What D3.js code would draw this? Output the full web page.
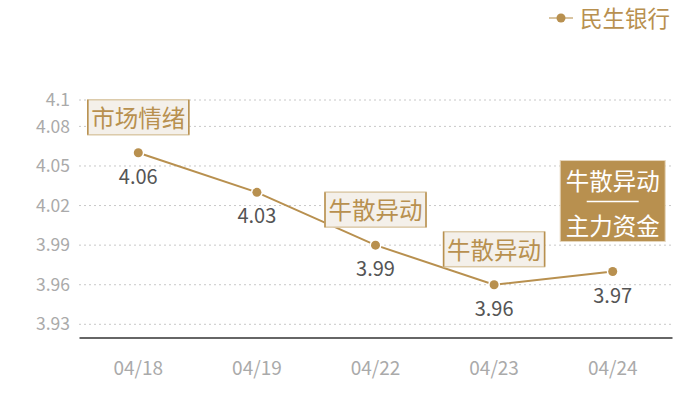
<!DOCTYPE html>
<html>
<head>
<meta charset="utf-8">
<title>民生银行</title>
<script src="https://cdn.jsdelivr.net/npm/d3@7"></script>
<style>
	body { margin: 0; background: #fff; }
	text { font-family: "Noto Sans CJK SC", "Noto Sans", sans-serif; }
</style>
</head>
<body>
<script>
	// 数据
	let categories = ['04/18', '04/19', '04/22', '04/23', '04/24'];
	let values = [4.06, 4.03, 3.99, 3.96, 3.97];
	let yTicks = [4.1, 4.08, 4.05, 4.02, 3.99, 3.96, 3.93];
	let seriesName = '民生银行';
	// 标注: 对应类别索引, 文字行
	let notes = [
		{ i: 0, lines: ['市场情绪'] },
		{ i: 2, lines: ['牛散异动'] },
		{ i: 3, lines: ['牛散异动'] },
		{ i: 4, lines: ['牛散异动', '主力资金'], strong: true }
	];

	let W = 700, H = 400;
	let gold = '#b8904f';
	let svg = d3.select('body').append('svg').attr('width', W).attr('height', H);

	let x = d3.scaleBand().domain(categories).range([79, 672]);
	let y = d3.scaleLinear().domain([3.92, 4.1]).range([337.5, 100]);
	let cx = function(d, i) { return x(categories[i]) + x.bandwidth() / 2; };

	// 网格线
	svg.selectAll('line.grid').data(yTicks).enter().append('line')
		.attr('class', 'grid')
		.attr('x1', 79).attr('x2', 672)
		.attr('y1', d => y(d)).attr('y2', d => y(d))
		.attr('stroke', '#c8c8c8').attr('stroke-width', 1)
		.attr('stroke-dasharray', '2,3');

	// Y轴文字
	svg.selectAll('text.ytick').data(yTicks).enter().append('text')
		.attr('class', 'ytick')
		.attr('x', 70).attr('y', d => y(d))
		.attr('dy', '0.35em')
		.attr('text-anchor', 'end')
		.attr('font-size', 17.5)
		.attr('fill', '#aaa')
		.text(d => d);

	// X轴
	let xAxis = svg.append('g')
		.attr('transform', 'translate(0,' + y(3.92) + ')')
		.call(d3.axisBottom(x).tickSize(0).tickPadding(24));
	xAxis.select('.domain').attr('stroke', '#333').attr('stroke-width', 1.5);
	xAxis.selectAll('text')
		.attr('font-size', 19)
		.attr('fill', '#aaa')
		.attr('font-family', '"Noto Sans CJK SC", sans-serif');

	// 折线
	let line = d3.line().x(cx).y(d => y(d));
	svg.append('path').datum(values)
		.attr('d', line)
		.attr('fill', 'none')
		.attr('stroke', gold)
		.attr('stroke-width', 2);

	svg.selectAll('circle.pt').data(values).enter().append('circle')
		.attr('class', 'pt')
		.attr('cx', cx).attr('cy', d => y(d))
		.attr('r', 4.5)
		.attr('fill', gold)
		.attr('stroke', '#fff').attr('stroke-width', 3)
		.attr('paint-order', 'stroke');

	// 数值标签
	svg.selectAll('text.val').data(values).enter().append('text')
		.attr('class', 'val')
		.attr('x', cx).attr('y', d => y(d) + 31)
		.attr('text-anchor', 'middle')
		.attr('font-size', 20)
		.attr('fill', '#555')
		.text(d => d.toFixed(2));

	// 标注框
	notes.forEach(function(n) {
		let px = cx(null, n.i), py = y(values[n.i]);
		let g = svg.append('g');
		if (n.strong) {
			let bw = 105, bh = 81;
			let bx = px - bw / 2, by = py - 30 - bh;
			g.append('rect').attr('x', bx).attr('y', by).attr('width', bw).attr('height', bh)
				.attr('fill', gold).attr('stroke', '#e6d6bd').attr('stroke-width', 1);
			g.append('text').attr('x', px).attr('y', by + 29).attr('text-anchor', 'middle')
				.attr('font-size', 23.5).attr('fill', '#fff').text(n.lines[0]);
			g.append('line').attr('x1', px - 26).attr('x2', px + 26)
				.attr('y1', by + 41).attr('y2', by + 41)
				.attr('stroke', '#fff').attr('stroke-width', 1.5);
			g.append('text').attr('x', px).attr('y', by + 74).attr('text-anchor', 'middle')
				.attr('font-size', 23.5).attr('fill', '#fff').text(n.lines[1]);
		} else {
			let bw = 101, bh = 35;
			let bx = px - bw / 2, by = py - 18 - bh;
			g.append('rect').attr('x', bx).attr('y', by).attr('width', bw).attr('height', bh)
				.attr('fill', '#f4f0ea').attr('stroke', '#dccaa9').attr('stroke-width', 1.5);
			g.append('line').attr('x1', bx).attr('x2', bx).attr('y1', by).attr('y2', by + bh)
				.attr('stroke', gold).attr('stroke-width', 1.5);
			g.append('line').attr('x1', bx + bw).attr('x2', bx + bw).attr('y1', by).attr('y2', by + bh)
				.attr('stroke', gold).attr('stroke-width', 1.5);
			g.append('text').attr('x', px).attr('y', by + 27).attr('text-anchor', 'middle')
				.attr('font-size', 23.5).attr('fill', gold).text(n.lines[0]);
		}
	});

	// 图例
	let lg = svg.append('g');
	lg.append('line').attr('x1', 549).attr('x2', 573).attr('y1', 18).attr('y2', 18)
		.attr('stroke', '#d9c4a0').attr('stroke-width', 2);
	lg.append('circle').attr('cx', 561).attr('cy', 18).attr('r', 4.5).attr('fill', gold);
	lg.append('text').attr('x', 580).attr('y', 27)
		.attr('font-size', 22.5).attr('fill', gold).text(seriesName);
</script>
</body>
</html>
